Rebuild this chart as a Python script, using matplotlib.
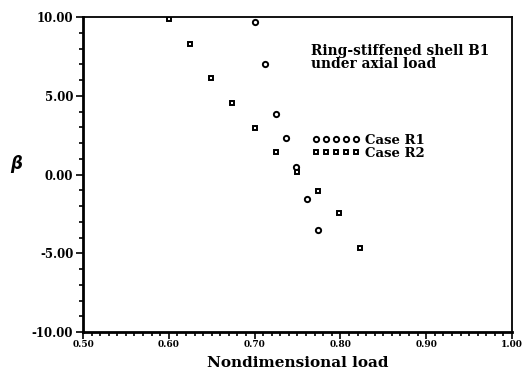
# Ring-stiffened shell B1 under axial load
import numpy as np
import matplotlib.pyplot as plt
from matplotlib.ticker import MultipleLocator, FormatStrFormatter

r1_load = [0.700, 0.712, 0.725, 0.737, 0.748, 0.761, 0.774]
r1_beta = [9.70, 7.00, 3.85, 2.30, 0.50, -1.55, -3.55]

r2_load = [0.600, 0.625, 0.649, 0.674, 0.700, 0.725, 0.749, 0.774, 0.798, 0.823]
r2_beta = [9.85, 8.30, 6.15, 4.55, 2.95, 1.45, 0.15, -1.05, -2.45, -4.65]

plt.rcParams['font.family'] = ['DejaVu Serif']
plt.rcParams['font.weight'] = 'bold'

fig = plt.figure(figsize=(5.27, 3.74), dpi=100)
ax = fig.add_axes([0.1575, 0.1123, 0.814, 0.8422])

ax.plot(r1_load, r1_beta, 'o', mfc='white', mec='black', ms=3.8, mew=1.4, label='Case R1')
ax.plot(r2_load, r2_beta, 's', mfc='white', mec='black', ms=3.4, mew=1.4, label='Case R2')

ax.set_xlim(0.5, 1.0)
ax.set_ylim(-10, 10)
ax.xaxis.set_major_locator(MultipleLocator(0.1))
ax.xaxis.set_minor_locator(MultipleLocator(0.01))
ax.yaxis.set_major_locator(MultipleLocator(5))
ax.yaxis.set_minor_locator(MultipleLocator(1))
ax.xaxis.set_major_formatter(FormatStrFormatter('%.2f'))
ax.yaxis.set_major_formatter(FormatStrFormatter('%.2f'))
ax.tick_params(which='both', direction='out', width=1.2)
ax.tick_params(which='major', length=5)
ax.tick_params(which='minor', length=3)
ax.tick_params(axis='x', labelsize=6.5, pad=1)
ax.tick_params(axis='y', labelsize=8.5, pad=2)
for s in ['left', 'bottom']:
    ax.spines[s].set_linewidth(2)
for s in ['top', 'right']:
    ax.spines[s].set_linewidth(1.3)

ax.set_xlabel('Nondimensional load', fontsize=11, fontweight='bold', labelpad=5)
ax.set_ylabel(r'$\beta$', fontsize=12, rotation=0)
ax.yaxis.set_label_coords(-0.155, 0.5)

ax.text(0.531, 0.914, 'Ring-stiffened shell B1\nunder axial load', transform=ax.transAxes,
        fontsize=9.9, fontweight='bold', va='top', linespacing=0.9)

ax.legend(numpoints=5, frameon=False, prop={'size': 9.5, 'weight': 'bold'}, loc='upper left',
          bbox_to_anchor=(0.535, 0.63), handlelength=3.6, handletextpad=0.35,
          labelspacing=0.0, borderpad=0, borderaxespad=0)

plt.savefig('out.png', dpi=100)
